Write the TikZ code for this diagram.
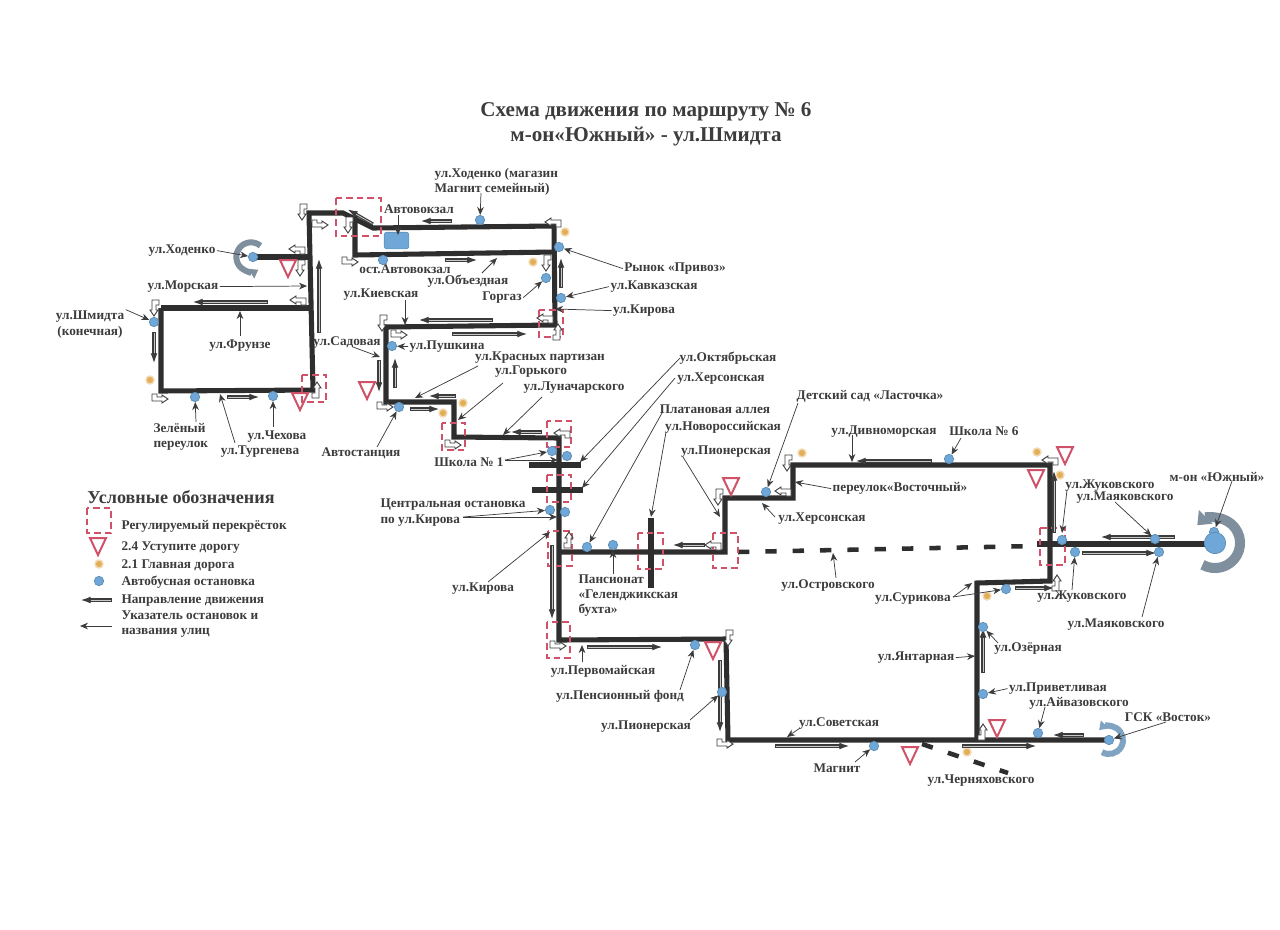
\documentclass[tikz,border=0pt]{standalone}
\usepackage{fontspec}
\setmainfont{Liberation Serif}
\usetikzlibrary{arrows.meta}
\definecolor{ink}{HTML}{3C3C3C}
\definecolor{road}{HTML}{2E2E2E}
\definecolor{redd}{HTML}{CF5268}
\definecolor{stopb}{HTML}{6FA8D8}
\definecolor{stope}{HTML}{5F8FB5}
\definecolor{mainr}{HTML}{E3AE58}
\definecolor{uturn}{HTML}{7F8F9D}
\definecolor{uturnb}{HTML}{7FA3C0}
\definecolor{dirin}{HTML}{C8C8C8}
\tikzset{
 lbl/.style={font=\fontsize{9.95}{11.4}\selectfont\bfseries,text=ink,inner sep=1pt,align=left,yshift=-1.2pt},
 ttl/.style={font=\fontsize{15.8}{18}\selectfont\bfseries,text=ink,inner sep=0pt,yshift=-1.5pt},
 rd/.style={draw=road,line width=3.8pt,line join=miter},
 rdash/.style={draw=road,line width=3.4pt,dash pattern=on 8.5pt off 12pt},
 tl/.style={draw=redd,line width=1.9pt,dash pattern=on 5pt off 3pt},
 stopn/.style={circle,fill=stopb,draw=stope,line width=.6pt,minimum size=7pt,inner sep=0pt},
 mainn/.style={circle,fill=mainr,draw=mainr!45,line width=1.1pt,minimum size=6pt,inner sep=0pt},
 yieldst/.style={draw=redd,line width=1.5pt,line join=miter},
 dira/.style={draw=ink,line width=2.4pt,-{Latex[length=8pt,width=5.2pt]},postaction={draw=dirin,line width=.6pt,-,shorten >=8pt,shorten <=.6pt}},
 lead/.style={draw=ink,line width=.55pt,-{Stealth[length=6pt,width=5pt]}},
 turnst/.style={draw=ink,fill=white,line width=.7pt,line join=miter},
 busst/.style={fill=stopb,draw=stope,line width=.5pt,rounded corners=2pt,minimum width=18.5pt,minimum height=12.5pt,inner sep=0pt},
}
\newcommand\lab[3]{\node[lbl] (#1) at (#2) {#3};}
\newcommand\lablr[3]{\node[lbl,anchor=west] (#1) at (#2) {#3};}
\newcommand\stp[2]{\node[stopn] (#1) at (#2) {};}
\newcommand\mrk[2]{\node[mainn] (#1) at (#2) {};}
\newcommand\ld[2]{\draw[lead] (#1) -- (#2);}
\newcommand\tlbox[2]{\draw[tl] (#1) rectangle (#2);}
\newcommand\yld[1]{\draw[yieldst,shift={(#1)}] (-8,-8) -- (8,-8) -- (0,9) -- cycle;}
\newcommand\dirr[2]{\draw[dira] (#1) -- (#2);}
\newcommand\turn[2]{\draw[turnst,shift={(#1)},rotate=#2] (-8,-5) -- (-3,-5) -- (-3,-2) -- (2,-2) -- (2,-4) -- (8,0) -- (2,4) -- (2,2) -- (-8,2) -- cycle;}
\begin{document}
\begin{tikzpicture}[x=0.75pt,y=-0.75pt]
\useasboundingbox (0,0) rectangle (1280,929);
% roads
\draw[rd] (161,308) -- (309,308);
\draw[rd] (161,308) -- (161,391) -- (317,390);
\draw[rd] (313,390) -- (309,213) -- (343,213) -- (373,228) -- (554,226) -- (555,325) -- (386,327) -- (386,402) -- (454,402) -- (454,437) -- (559,438) -- (559,640) -- (726,639) -- (728,740) -- (1110,740);
\draw[rd] (355,216) -- (355,255) -- (554,252);
\draw[rd] (253,257) -- (309,257);
\draw[rd] (977,740) -- (977,583) -- (1050,581) -- (1050,465) -- (793,465) -- (793,498) -- (725,498) -- (725,552) -- (559,552);
\draw[rd] (529,465) -- (581,465);
\draw[rd] (532,490) -- (583,490);
\draw[rd] (651,518) -- (651,588);
\draw[rd] (1037,544) -- (1207,544);
\draw[rdash] (738,552) -- (1035,546);
\draw[rdash] (922,744) -- (1008,773);
% regulated crossings
\tlbox{336,198}{381,236}\tlbox{302,375}{326,402}\tlbox{539,310}{563,337}\tlbox{442,423}{465,450}
\tlbox{547,421}{571,447}\tlbox{547,475}{571,502}\tlbox{548,531}{572,566}\tlbox{638,533}{663,569}
\tlbox{713,533}{738,568}\tlbox{547,622}{570,658}\tlbox{1040,528}{1065,565}
% yield signs
\yld{288,268}\yld{300,401}\yld{367,390}\yld{731,486}\yld{713,650}\yld{1065,455}\yld{1036,478}\yld{910,755}\yld{997,728}
% main road signs
\mrk{m1}{150,380}\mrk{m2}{565,232}\mrk{m3}{533,262}\mrk{m4}{463,403}\mrk{m5}{443,413}\mrk{m6}{802,453}\mrk{m7}{1037,452}\mrk{m8}{1060,475}\mrk{m9}{987,596}\mrk{m10}{967,752}
% direction arrows
\dirr{268,302}{192,302}\dirr{154,332}{154,364}\dirr{227,397}{260,397}\dirr{319,333}{319,258}
\dirr{373,224}{347,209}\dirr{452,221}{420,221}\dirr{445,260}{478,260}\dirr{561,288}{561,257}
\dirr{493,320}{418,320}\dirr{452,334}{528,334}\dirr{395,388}{395,357}\dirr{379,360}{379,393}
\dirr{456,396}{428,396}\dirr{410,409}{440,409}\dirr{542,432}{510,432}\dirr{552,545}{552,620}
\dirr{705,545}{672,545}\dirr{587,647}{663,647}\dirr{720,660}{720,733}\dirr{775,746}{850,746}
\dirr{962,746}{1037,746}\dirr{1084,735}{1052,735}\dirr{983,673}{983,627}\dirr{932,461}{855,461}
\dirr{1175,537}{1100,537}\dirr{1082,553}{1157,553}\dirr{1015,588}{1055,588}\dirr{1054,533}{1054,470}
% turn arrows
\turn{302,212}{270}\turn{320,225}{0}\turn{348,225}{270}\turn{297,249}{180}\turn{300,268}{270}
\turn{298,300}{180}\turn{154,308}{270}\turn{160,399}{0}\turn{317,390}{90}\turn{350,262}{0}
\turn{553,222}{180}\turn{546,263}{270}\turn{545,318}{180}\turn{558,332}{90}\turn{382,323}{270}
\turn{399,335}{0}\turn{385,407}{0}\turn{453,445}{0}\turn{562,433}{180}\turn{569,540}{90}
\turn{558,646}{0}\turn{728,638}{270}\turn{713,545}{180}\turn{718,497}{270}\turn{783,491}{180}
\turn{787,463}{270}\turn{1050,460}{180}\turn{1057,583}{90}\turn{725,744}{0}\turn{983,732}{90}
% u-turns
\coordinate (u1) at (251,257);
\coordinate (u2) at (1109,740);
\coordinate (u3) at (1215,543);
\draw[draw=uturn,line width=4.5pt,-{Triangle[length=6pt,width=8pt]}] ([shift={(50:11pt)}]u1) arc[start angle=50,end angle=300,radius=11pt];
\draw[draw=uturnb,line width=4.5pt,-{Triangle[length=6pt,width=8pt]}] ([shift={(240:10.5pt)}]u2) arc[start angle=240,end angle=495,radius=10.5pt];
\draw[draw=uturn,line width=7.5pt,-{Triangle[length=9pt,width=14pt]}] ([shift={(240:18.8pt)}]u3) arc[start angle=240,end angle=495,radius=18.8pt];
% bus station
\node[busst] (bus) at (396.5,240.5) {};
% stops
\stp{s1}{253,257}\stp{s2}{154,322}\stp{s3}{195,397}\stp{s4}{273,396}\stp{s5}{383,260}\stp{s6}{480,220}
\stp{s7}{559,247}\stp{s8}{546,278}\stp{s9}{561,298}\stp{s10}{392,346}\stp{s11}{399,407}\stp{s12}{552,451}
\stp{s13}{567,456}\stp{s14}{550,510}\stp{s15}{565,512}\stp{s16}{587,547}\stp{s17}{613,545}\stp{s18}{695,645}
\stp{s19}{722,692}\stp{s20}{766,492}\stp{s21}{949,459}\stp{s22}{1155,539}\stp{s23}{1159,552}\stp{s24}{1075,552}
\stp{s25}{1062,540}\stp{s26}{1006,589}\stp{s27}{983,627}\stp{s28}{983,694}\stp{s29}{1038,733}\stp{s30}{874,746}
\stp{s31}{1109,740}\stp{s32}{1214,532}
\node[stopn,minimum size=16pt] (s33) at (1215,543) {};
% title
\node[ttl] (t1) at (646,110) {Схема движения по маршруту № 6};
\node[ttl] (t2) at (646,135) {м-он«Южный» - ул.Шмидта};
% labels
\lablr{lhm}{433,180}{ул.Ходенко (магазин\\Магнит семейный)}
\lab{lavt}{419,208}{Автовокзал}
\lab{lhod}{182,249}{ул.Ходенко}
\lab{lmor}{183,285}{ул.Морская}
\node[lbl,align=center] (lshm) at (90,323) {ул.Шмидта\\(конечная)};
\lab{lfru}{240,344}{ул.Фрунзе}
\lab{lsad}{347,341}{ул.Садовая}
\lab{lkie}{381,293}{ул.Киевская}
\lab{lost}{405,268}{ост.Автовокзал}
\lab{lobz}{468,280}{ул.Объездная}
\lab{lpri}{675,267}{Рынок «Привоз»}
\lab{lkav}{654,285}{ул.Кавказская}
\lab{lgor}{502,296}{Горгаз}
\lab{lkir}{644,309}{ул.Кирова}
\lab{lpus}{447,345}{ул.Пушкина}
\lab{lkra}{540,356}{ул.Красных партизан}
\lab{lgok}{531,370}{ул.Горького}
\lab{llun}{574,386}{ул.Луначарского}
\lab{lokt}{728,357}{ул.Октябрьская}
\lab{lher}{721,377}{ул.Херсонская}
\lab{lpla}{715,408}{Платановая аллея}
\lab{lnov}{723,426}{ул.Новороссийская}
\lab{lpio}{726,450}{ул.Пионерская}
\lab{ldet}{870,395}{Детский сад «Ласточка»}
\lab{ldiv}{884,430}{ул.Дивноморская}
\lab{lsh6}{984,430}{Школа № 6}
\lab{lyuz}{1217,475}{м-он «Южный»}
\lab{lzh1}{1110,484}{ул.Жуковского}
\lab{lma1}{1125,496}{ул.Маяковского}
\lab{lvos}{900,487}{переулок«Восточный»}
\lab{lhe2}{822,517}{ул.Херсонская}
\lab{losr}{828,584}{ул.Островского}
\lab{lsur}{913,597}{ул.Сурикова}
\lab{lzh2}{1082,595}{ул.Жуковского}
\lab{lma2}{1116,623}{ул.Маяковского}
\lab{loze}{1028,647}{ул.Озёрная}
\lab{lyan}{916,656}{ул.Янтарная}
\lab{lpvt}{1058,687}{ул.Приветливая}
\lab{laiv}{1079,702}{ул.Айвазовского}
\lab{lgsk}{1168,716}{ГСК «Восток»}
\lab{lsov}{839,722}{ул.Советская}
\lab{lmag}{837,767}{Магнит}
\lab{lche}{981,779}{ул.Черняховского}
\lab{lpi2}{646,725}{ул.Пионерская}
\lab{lpen}{620,695}{ул.Пенсионный фонд}
\lab{lper}{603,670}{ул.Первомайская}
\lablr{lpan}{577,594}{Пансионат\\«Геленджикская\\бухта»}
\lab{lki2}{483,587}{ул.Кирова}
\lablr{lcen}{379,511}{Центральная остановка\\по ул.Кирова}
\lab{lsh1}{469,461}{Школа № 1}
\lab{lavs}{361,452}{Автостанция}
\lablr{lzel}{152,435}{Зелёный\\переулок}
\lab{lche2}{277,435}{ул.Чехова}
\lab{ltur}{260,450}{ул.Тургенева}
% leader ends on roads
\coordinate (c1) at (307,286);\coordinate (c2) at (240,311);\coordinate (c3) at (220,394);\coordinate (c4) at (380,357);
\coordinate (c5) at (405,325);\coordinate (c6) at (497,258);\coordinate (c7) at (555,309);\coordinate (c8) at (415,398);
\coordinate (c9) at (458,420);\coordinate (c10) at (503,435);\coordinate (c11) at (580,462);\coordinate (c12) at (582,488);
\coordinate (c13) at (651,517);\coordinate (c14) at (720,517);\coordinate (c15) at (852,462);\coordinate (c16) at (795,482);
\coordinate (c17) at (762,503);\coordinate (c18) at (833,553);\coordinate (c19) at (972,583);\coordinate (c20) at (975,656);
\coordinate (c21) at (787,737);\coordinate (c22) at (582,645);\coordinate (c23) at (550,532);\coordinate (c24) at (557,517);
\coordinate (c25) at (558,460);\coordinate (c26) at (398,235);\coordinate (c27) at (1062,533);
\coordinate (a2) at (478,366);\coordinate (a3) at (503,383);\coordinate (a4) at (542,397);
\coordinate (a5) at (680,358);\coordinate (a6) at (675,378);\coordinate (a7) at (662,413);\coordinate (a8) at (666,432);
\coordinate (a9) at (683,457);\coordinate (a10) at (798,403);\coordinate (a11) at (852,435);\coordinate (a12) at (961,438);
\coordinate (a13) at (775,517);\coordinate (a14) at (836,578);\coordinate (a15) at (1067,490);\coordinate (a16) at (1115,502);
\coordinate (a17) at (1232,481);\coordinate (a18) at (1072,590);\coordinate (a19) at (1142,617);\coordinate (a20) at (998,643);
\coordinate (a21) at (1045,707);\coordinate (a22) at (1166,722);\coordinate (a23) at (800,728);\coordinate (a24) at (855,762);
\coordinate (a25) at (680,690);\coordinate (a26) at (690,720);\coordinate (a27) at (582,662);\coordinate (a28) at (613,574);
\coordinate (a29) at (488,582);\coordinate (a30) at (463,517);\coordinate (a31) at (505,460);\coordinate (a32) at (196,422);
\coordinate (a33) at (235,443);\coordinate (a34) at (273,427);\coordinate (a35) at (240,336);\coordinate (a36) at (353,347);
\coordinate (a37) at (405,300);\coordinate (a38) at (398,215);\coordinate (a39) at (481,193);\coordinate (a40) at (482,273);
\coordinate (a41) at (377,447);\coordinate (a42) at (953,597);\coordinate (a43) at (522,297);
% leaders
\ld{lhod.east}{s1}\ld{lmor.east}{c1}\ld{a35}{c2}\ld{lshm.north east}{s2}\ld{a32}{s3}\ld{a33}{c3}\ld{a34}{s4}
\ld{a36}{c4}\ld{a37}{c5}\ld{lpus.west}{s10}\ld{a38}{c26}\ld{a39}{s6}\ld{a40}{c6}\ld{lgor.east}{s8}
\ld{lpri.west}{s7}\ld{lkav.west}{s9}\ld{lkir.west}{c7}\ld{a2}{c8}\ld{a3}{c9}\ld{a4}{c10}\ld{a41}{s11}
\ld{a5}{c11}\ld{a6}{c12}\ld{a7}{s16}\ld{a8}{c13}\ld{a9}{c14}\ld{a10}{s20}\ld{a11}{c15}\ld{a12}{s21}
\ld{lvos.west}{c16}\ld{a13}{c17}\ld{a14}{c18}\ld{a42}{c19}\ld{a42}{s26}\ld{a15}{c27}\ld{a16}{s22}
\ld{a17}{s32}\ld{a18}{s24}\ld{a19}{s23}\ld{a20}{s27}\ld{lyan.east}{c20}\ld{lpvt.west}{s28}\ld{a21}{s29}
\ld{a22}{s31}\ld{a23}{c21}\ld{a24}{s30}\ld{a25}{s18}\ld{a26}{s19}\ld{a27}{c22}\ld{a28}{s17}\ld{a29}{c23}
\ld{a30}{s14}\ld{a30}{c24}\ld{a31}{s12}\ld{a31}{c25}
% legend
\node[lbl,font=\fontsize{13.6}{15}\selectfont\bfseries] (lgt) at (181,495) {Условные обозначения};
\tlbox{87,508}{111,533}
\yld{98,546}
\mrk{lgm}{99,564}
\stp{lgs}{99,581}
\coordinate (lg1) at (112,600);\coordinate (lg2) at (80,600);\coordinate (lg3) at (112,626);\coordinate (lg4) at (80,626);
\dirr{lg1}{lg2}
\ld{lg3}{lg4}
\lablr{lg5}{120,525}{Регулируемый перекрёсток}
\lablr{lg6}{120,546}{2.4 Уступите дорогу}
\lablr{lg7}{120,564}{2.1 Главная дорога}
\lablr{lg8}{120,581}{Автобусная остановка}
\lablr{lg9}{120,599}{Направление движения}
\lablr{lg10}{120,622.5}{Указатель остановок и\\названия улиц}
\end{tikzpicture}
\end{document}
